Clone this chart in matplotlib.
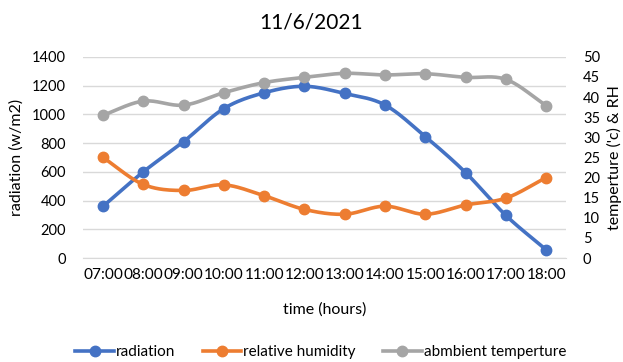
import matplotlib.pyplot as plt
import numpy as np

plt.rcParams['font.family'] = ['Lato', 'DejaVu Sans']

hours = ['07:00', '08:00', '09:00', '10:00', '11:00', '12:00',
         '13:00', '14:00', '15:00', '16:00', '17:00', '18:00']
radiation = [360, 600, 810, 1040, 1150, 1195, 1145, 1065, 845, 595, 297, 58]
humidity = [25.0, 18.3, 16.8, 18.2, 15.5, 12.1, 10.9, 12.9, 10.9, 13.2, 14.9, 20.0]
temperature = [35.5, 39.0, 38.0, 41.1, 43.6, 44.9, 45.9, 45.5, 45.8, 44.9, 44.4, 37.9]

BLUE = '#4472C4'
ORANGE = '#ED7D31'
GRAY = '#A5A5A5'


def smooth(y, n=20):
    # catmull-rom style curve through the points, like excel's smoothed line
    y = np.asarray(y, dtype=float)
    x = np.arange(len(y), dtype=float)
    p = np.concatenate([[2 * y[0] - y[1]], y, [2 * y[-1] - y[-2]]])
    xs, ys = [], []
    for i in range(len(y) - 1):
        t = np.linspace(0, 1, n, endpoint=False)
        p0, p1, p2, p3 = p[i], p[i + 1], p[i + 2], p[i + 3]
        seg = 0.5 * ((2 * p1) + (-p0 + p2) * t + (2 * p0 - 5 * p1 + 4 * p2 - p3) * t ** 2
                     + (-p0 + 3 * p1 - 3 * p2 + p3) * t ** 3)
        xs.append(x[i] + t)
        ys.append(seg)
    xs.append([x[-1]])
    ys.append([y[-1]])
    return np.concatenate(xs), np.concatenate(ys)


fig = plt.figure(figsize=(6.23, 3.62), dpi=100)
ax = fig.add_axes([0.133, 0.287, 0.776, 0.556])
ax2 = ax.twinx()

x = np.arange(len(hours))
lw = 2.6
ms = 7.5

sx, sy = smooth(radiation)
ax.plot(sx, sy, color=BLUE, lw=lw, zorder=3)
ax.plot(x, radiation, 'o', color=BLUE, ms=ms, zorder=3)

for vals, col in [(humidity, ORANGE), (temperature, GRAY)]:
    sx, sy = smooth(vals)
    ax2.plot(sx, sy, color=col, lw=lw)
    ax2.plot(x, vals, 'o', color=col, ms=ms)

ax.set_xlim(-0.5, len(hours) - 0.5)
ax.set_ylim(0, 1400)
ax.set_yticks(range(0, 1401, 200))
ax2.set_ylim(0, 50)
ax2.set_yticks(range(0, 51, 5))
ax.set_xticks(x)
ax.set_xticklabels(hours)

ax.grid(axis='y', color='#D9D9D9', lw=1)
ax.set_axisbelow(True)
for a in (ax, ax2):
    for s in a.spines.values():
        s.set_visible(False)
    a.tick_params(length=0, labelsize=10.5, colors='#000000')
ax.spines['bottom'].set_visible(True)
ax.spines['bottom'].set_color('#D9D9D9')
ax.tick_params(axis='x', pad=7, labelsize=11.1)
ax.tick_params(axis='y', pad=12)
ax2.tick_params(axis='y', pad=12)

ax.set_xlabel('time (hours)', fontsize=11.5, labelpad=15)
ax.set_ylabel('radiation (w/m2)', fontsize=11.5, labelpad=6)
ax2.set_ylabel("temperture ('c) & RH", fontsize=11.5, labelpad=5)
fig.suptitle('11/6/2021', fontsize=15, y=0.965)

handles = [plt.Line2D([], [], color=c, lw=lw, marker='o', ms=ms) for c in (BLUE, ORANGE, GRAY)]
fig.legend(handles, ['radiation', 'relative humidity', 'abmbient temperture'],
           loc='center', bbox_to_anchor=(0.515, 0.027), ncol=3, frameon=False,
           fontsize=11, handlelength=2.5, handletextpad=0.15, columnspacing=1.8)

fig.savefig('out.png', dpi=100)
